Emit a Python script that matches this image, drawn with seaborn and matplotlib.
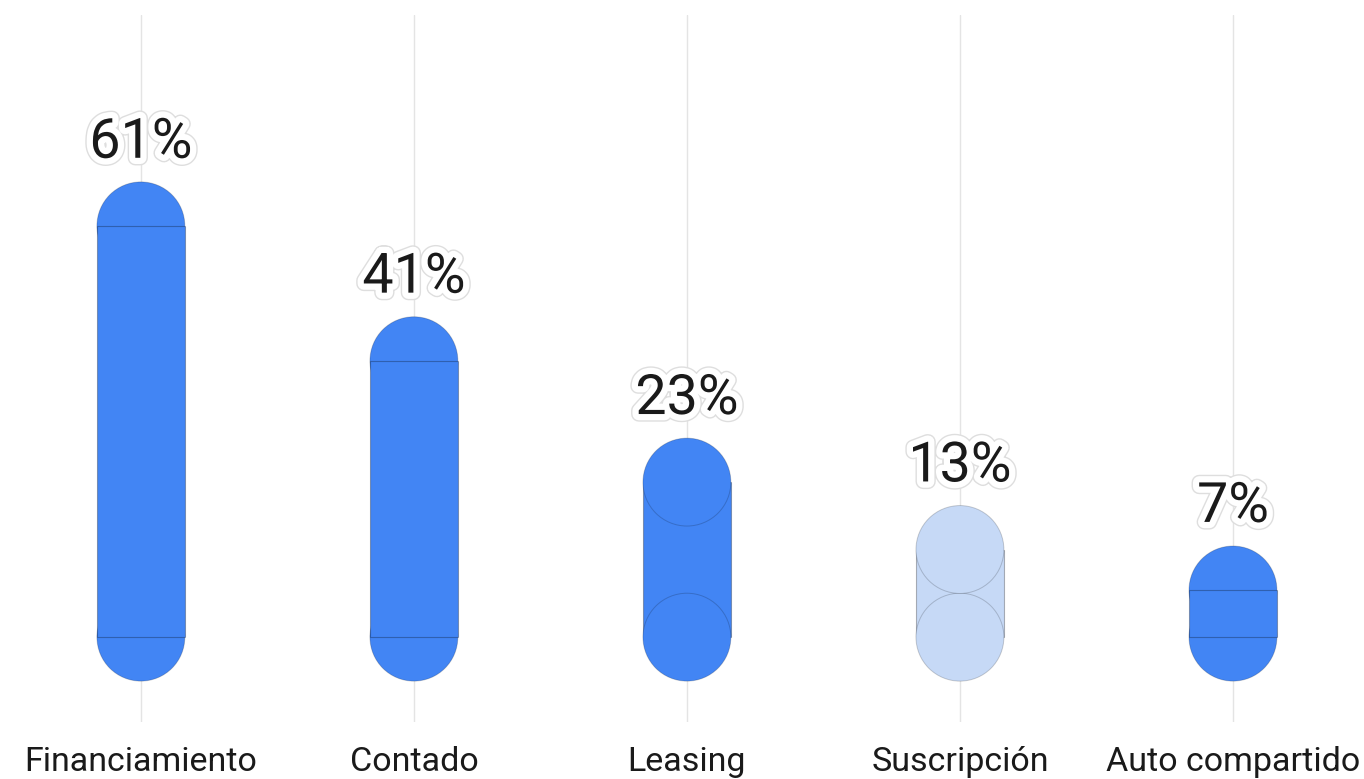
import matplotlib
matplotlib.use("Agg")
import matplotlib.pyplot as plt
import matplotlib.patheffects as pe
import seaborn as sns
import pandas as pd

# Preferred ways to buy or use a car (% of respondents)
categories = ["Financiamiento", "Contado", "Leasing", "Suscripción", "Auto compartido"]
shares = [61, 41, 23, 13, 7]
value_labels = ["61%", "41%", "23%", "13%", "7%"]

BLUE = "#4285f4"
PALE = "#c6d9f6"
colors = [BLUE, BLUE, BLUE, PALE, BLUE]
# whether the round caps are painted over the bar body
caps_over_bar = [False, False, True, True, False]

df = pd.DataFrame({"categoria": categories, "pct": shares})

sns.set_theme(style="white")
plt.rcParams["font.family"] = ["Roboto", "DejaVu Sans"]

W, H, DPI = 13.64, 7.79, 100
fig = plt.figure(figsize=(W, H), dpi=DPI)
ax = fig.add_axes([0, 0.073, 1, 0.908])

XLIM = (-0.516, 4.48)
YLIM = (-12.6, 92.3)
BAR_W = 0.322

sns.barplot(data=df, x="categoria", y="pct", hue="categoria", palette=colors,
            width=BAR_W, saturation=1, errorbar=None, legend=False, ax=ax,
            edgecolor=(0, 0, 0, 0.28), linewidth=0.8, zorder=3)

ax.set_xlim(*XLIM)
ax.set_ylim(*YLIM)

# marker diameter equal to the bar width, in points
px_per_unit = W * DPI / (XLIM[1] - XLIM[0])
diam_pt = BAR_W * px_per_unit * 72 / DPI
cap_size = diam_pt ** 2

caps = pd.DataFrame({
    "categoria": categories + categories,
    "y": [0] * len(shares) + shares,
    "over": caps_over_bar + caps_over_bar,
})
for over, z in [(False, 2), (True, 4)]:
    sub = caps[caps["over"] == over]
    sns.scatterplot(data=sub, x="categoria", y="y", hue="categoria",
                    palette=dict(zip(categories, colors)), s=cap_size,
                    edgecolor=(0, 0, 0, 0.18), linewidth=0.7,
                    legend=False, ax=ax, zorder=z)

halo = [pe.Stroke(linewidth=11, foreground="#dedede"),
        pe.Stroke(linewidth=9, foreground="white"),
        pe.Normal()]
for i, (v, lab) in enumerate(zip(shares, value_labels)):
    ax.annotate(lab, xy=(i, v), xytext=(0, 49), textcoords="offset points",
                ha="center", va="baseline", fontsize=40, color="#1a1a1a",
                path_effects=halo, zorder=6)

ax.set_xlim(*XLIM)
ax.set_ylim(*YLIM)
ax.grid(axis="x", color="#e4e4e4", linewidth=1)
ax.grid(axis="y", visible=False)
ax.set_axisbelow(True)
ax.set_yticks([])
ax.set_xlabel("")
ax.set_ylabel("")
ax.tick_params(axis="x", length=0, pad=17.5, labelsize=24.5, labelcolor="#1a1a1a")
for s in ax.spines.values():
    s.set_visible(False)

fig.savefig("out.png", dpi=DPI, facecolor="white")
